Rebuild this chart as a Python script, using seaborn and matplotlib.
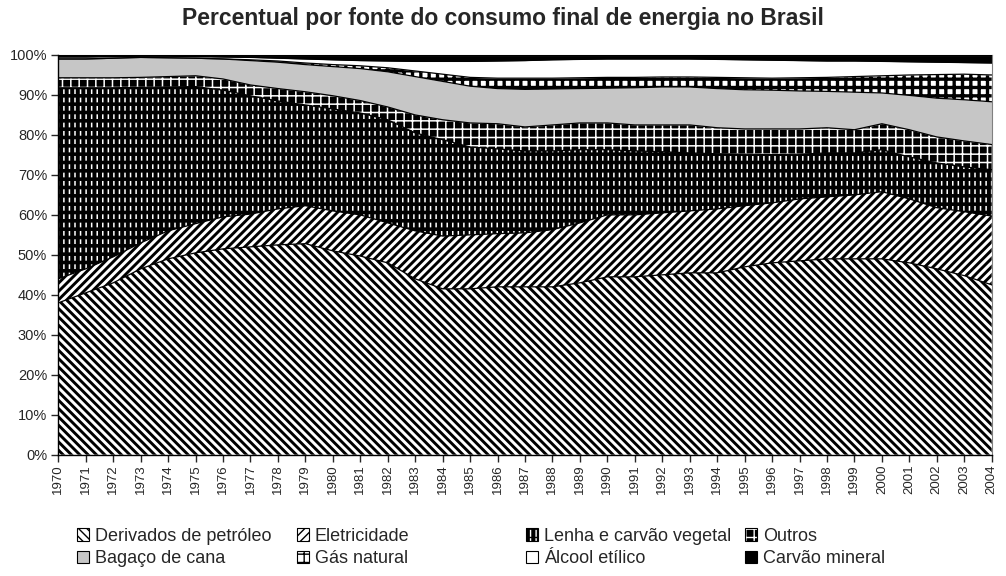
import numpy as np
import pandas as pd
import matplotlib
matplotlib.use("Agg")
import matplotlib.pyplot as plt
from matplotlib.patches import Patch
from matplotlib.ticker import FuncFormatter
from matplotlib.legend_handler import HandlerTuple
import seaborn as sns

# ---------------- data (shares, % of final energy consumption) ----------------
years = list(range(1970, 2005))

derivados = [38.0, 40.5, 43.0, 46.5, 49.0, 50.5, 51.5, 52.0, 52.5, 52.8,
             51.0, 49.7, 48.0, 44.0, 41.5, 41.5, 42.0, 42.0, 42.0, 43.0,
             44.5, 44.5, 45.0, 45.5, 45.5, 47.0, 48.0, 48.5, 49.0, 49.0,
             49.0, 48.0, 46.5, 44.8, 42.5]
eletricidade = [6.0, 6.0, 6.5, 6.5, 7.0, 7.3, 8.0, 8.2, 9.0, 9.5,
                10.0, 10.3, 10.0, 12.0, 13.2, 13.5, 13.3, 13.5, 14.3, 15.0,
                15.5, 15.5, 15.5, 15.5, 16.0, 15.3, 15.0, 15.5, 15.5, 16.0,
                16.8, 16.0, 15.3, 16.0, 17.2]
lenha = [47.8, 45.3, 42.3, 38.9, 36.0, 34.3, 31.7, 29.6, 27.0, 25.2,
         25.5, 25.5, 25.8, 24.5, 24.1, 22.0, 21.2, 20.5, 19.7, 18.3,
         16.3, 16.0, 15.3, 14.5, 13.8, 12.9, 12.1, 11.2, 11.0, 10.5,
         10.5, 10.5, 11.2, 11.2, 11.6]
outros = [2.5, 2.5, 2.5, 2.5, 2.6, 2.7, 2.8, 2.7, 3.1, 3.3,
          3.3, 3.1, 3.2, 4.5, 5.0, 6.0, 6.3, 6.0, 6.5, 6.7,
          6.7, 6.5, 6.7, 7.0, 6.5, 6.3, 6.4, 6.3, 6.3, 5.8,
          6.5, 6.8, 6.5, 6.5, 6.3]
bagaco = [4.7, 4.7, 4.9, 5.0, 4.7, 4.4, 5.0, 6.1, 6.6, 6.8,
          7.3, 8.0, 8.8, 9.6, 9.6, 9.2, 8.8, 9.4, 9.0, 8.6,
          8.7, 9.3, 9.5, 9.5, 9.8, 9.8, 9.7, 9.5, 9.1, 9.4,
          7.7, 8.6, 9.7, 10.3, 10.7]
gas_natural = [0.0, 0.0, 0.0, 0.0, 0.0, 0.0, 0.0, 0.2, 0.3, 0.4,
               0.5, 0.7, 1.0, 1.4, 1.8, 2.2, 2.6, 2.8, 2.7, 2.7,
               2.7, 2.6, 2.5, 2.5, 2.8, 3.0, 3.0, 3.3, 3.5, 3.9,
               4.3, 5.1, 5.9, 6.4, 6.7]
alcool = [0.5, 0.5, 0.4, 0.3, 0.4, 0.4, 0.5, 0.6, 0.7, 1.0,
          1.2, 1.3, 1.7, 2.4, 3.2, 4.0, 4.3, 4.4, 4.6, 4.6,
          4.6, 4.6, 4.5, 4.5, 4.5, 4.5, 4.5, 4.3, 4.1, 3.9,
          3.6, 3.3, 3.1, 2.9, 3.0]
carvao = [0.5, 0.5, 0.4, 0.3, 0.3, 0.4, 0.5, 0.6, 0.8, 1.0,
          1.2, 1.4, 1.5, 1.6, 1.6, 1.6, 1.5, 1.4, 1.2, 1.1,
          1.0, 1.0, 1.0, 1.0, 1.1, 1.2, 1.3, 1.4, 1.5, 1.5,
          1.6, 1.7, 1.8, 1.9, 2.0]

labels = ["Derivados de petróleo", "Eletricidade", "Lenha e carvão vegetal",
          "Outros", "Bagaço de cana", "Gás natural", "Álcool etílico",
          "Carvão mineral"]
title = "Percentual por fonte do consumo final de energia no Brasil"

series = [derivados, eletricidade, lenha, outros, bagaco, gas_natural, alcool, carvao]

# ---------------- styling ----------------
sns.set_style("white")
plt.rcParams['font.family'] = ['Liberation Sans', 'DejaVu Sans']

styles = [
    dict(face="white", hc="black", hatch="\\\\\\\\", hlw=2.1),
    dict(face="white", hc="black", hatch="////", hlw=2.1),
    dict(face="black", hc="white", hatch="|||", hlw=1.1, over=("--", 2.6)),
    dict(face="black", hc="white", hatch="++", hlw=1.1),
    dict(face="#c6c6c6", hc="#c6c6c6", hatch=None, hlw=1.0),
    dict(face="white", hc="black", hatch="++", hlw=2.4),
    dict(face="white", hc="white", hatch=None, hlw=1.0),
    dict(face="black", hc="black", hatch=None, hlw=1.0),
]


def set_hlw(artist, lw):
    if hasattr(artist, "set_hatch_linewidth"):
        artist.set_hatch_linewidth(lw)


fig = plt.figure(figsize=(10.06, 5.76), dpi=100)
ax = fig.add_axes([58.3 / 1006, 1 - 454.7 / 576, (991.7 - 58.3) / 1006, (454.7 - 55) / 576])

x = np.array(years)
cum = np.cumsum(np.array(series, dtype=float), axis=0)
cum = cum / cum[-1] * 100.0
base = np.zeros_like(x, dtype=float)
for i, st in enumerate(styles):
    top = cum[i]
    with plt.rc_context({"hatch.linewidth": st["hlw"]}):
        pc = ax.fill_between(x, base, top, facecolor=st["face"], edgecolor=st["hc"],
                             hatch=st["hatch"], linewidth=0, zorder=2 + i * 0.01)
        set_hlw(pc, st["hlw"])
    if "over" in st:
        h, lw = st["over"]
        with plt.rc_context({"hatch.linewidth": lw}):
            pc2 = ax.fill_between(x, base, top, facecolor="none", edgecolor="black",
                                  hatch=h, linewidth=0, zorder=2.005 + i * 0.01)
            set_hlw(pc2, lw)
    base = top

# outlines of each band
long = pd.DataFrame({
    "year": np.tile(x, len(labels)),
    "top": cum.ravel(),
    "fonte": np.repeat(labels, len(x)),
})
sns.lineplot(data=long, x="year", y="top", units="fonte", estimator=None,
             color="black", linewidth=0.9, legend=False, ax=ax, zorder=5)

ax.set_xlim(1970, 2004)
ax.set_ylim(0, 100)
ax.set_xticks(years)
ax.set_xticklabels([str(y) for y in years], rotation=90, fontsize=9.5)
ax.set_yticks(np.arange(0, 101, 10))
ax.yaxis.set_major_formatter(FuncFormatter(lambda v, p: f"{int(round(v))}%"))
ax.tick_params(axis="y", labelsize=10.5, direction="out", length=5, width=1, pad=3, left=True)
ax.tick_params(axis="x", direction="out", length=5, width=1, pad=2, bottom=True)
ax.set_xlabel("")
ax.set_ylabel("")
for s in ["left", "bottom"]:
    ax.spines[s].set_color("black")
    ax.spines[s].set_linewidth(1.0)
for s in ["right", "top"]:
    ax.spines[s].set_color("#808080")
    ax.spines[s].set_linewidth(0.8)
ax.spines["left"].set_zorder(10)
ax.spines["bottom"].set_zorder(10)

fig.text(0.5, 1 - 19 / 576, title, ha="center", va="center",
         fontsize=16.5, fontweight="bold")

# ---------------- legend (4 columns placed like the original) ----------------
def make_handle(st):
    with plt.rc_context({"hatch.linewidth": st["hlw"] * 0.8}):
        p = Patch(facecolor=st["face"], edgecolor=st["hc"], hatch=st["hatch"], linewidth=0)
        set_hlw(p, st["hlw"] * 0.8)
    border = Patch(facecolor="none", edgecolor="black", linewidth=0.8)
    if "over" in st:
        h, lw = st["over"]
        with plt.rc_context({"hatch.linewidth": lw * 0.8}):
            o = Patch(facecolor="none", edgecolor="black", hatch=h, linewidth=0)
            set_hlw(o, lw * 0.8)
        return (p, o, border)
    return (p, border)

col_x = [77, 297, 526, 745]
for c in range(4):
    idx = [c, c + 4]
    hs = [make_handle(styles[k]) for k in idx]
    fig.legend(hs, [labels[k] for k in idx], loc="upper left",
               bbox_to_anchor=(col_x[c] / 1006, 1 - 528 / 576),
               frameon=False, fontsize=13, handlelength=0.68, handleheight=0.68,
               handletextpad=0.3, labelspacing=0.3, borderpad=0, borderaxespad=0,
               handler_map={tuple: HandlerTuple(ndivide=1, pad=0)})

fig.savefig("out.png", dpi=100)
